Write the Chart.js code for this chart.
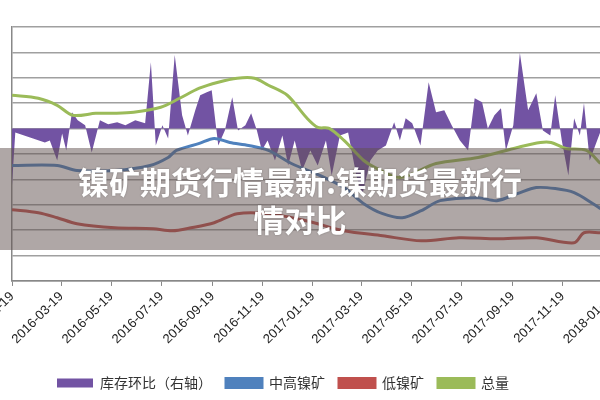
<!DOCTYPE html>
<html><head><meta charset="utf-8">
<script src="https://cdn.jsdelivr.net/npm/chart.js@4"></script>
<style>
html,body{margin:0;padding:0;width:600px;height:400px;overflow:hidden;background:#fff;}
#wrap{position:absolute;left:0;top:0;width:640px;height:400px;}
#banner{position:absolute;left:0;top:148px;width:600px;height:102px;background:rgba(95,80,78,0.5);
color:#fff;font-family:"Noto Sans CJK SC";font-weight:bold;font-size:31px;line-height:38px;text-align:center;padding-top:14px;box-sizing:border-box;text-shadow:0 0 2px rgba(0,0,0,0.3);}
</style></head><body>
<div id="wrap"><canvas id="c"></canvas></div>
<div id="banner">镍矿期货行情最新:镍期货最新行<br>情对比</div>
<script>
const tickDays=[0,60,121,182,244,305,366,425,486,547,609,670,731];
const tickLabels=["2016-01-19","2016-03-19","2016-05-19","2016-07-19","2016-09-19","2016-11-19","2017-01-19","2017-03-19","2017-05-19","2017-07-19","2017-09-19","2017-11-19","2018-01-19"];
const invDays=[0,4,22,40,46,55,61,66,73,80,89,97,107,117,128,138,150,162,169,175,183,190,198,207,214,223,229,237,243,251,259,268,275,284,291,298,304,311,320,329,336,344,353,363,372,382,389,399,409,419,426,436,445,455,465,472,479,487,497,507,516,526,535,545,555,563,572,579,587,595,601,610,618,628,638,646,655,661,669,677,684,691,696,703,712,719];
const invVals=[-57,-4,-9,-14,-12,-32,-5,-22,16,8,3,-24,8,4,6,3,8,5,66,-17,3,-10,73,13,-7,18,33,36,38,-17,-2,31,-2,3,15,-2,-22,-12,-32,-7,-37,-12,-42,-22,-37,-12,-47,-7,-4,-47,-67,-32,-22,-17,6,-12,10,5,-17,46,16,18,3,-12,-22,30,26,0,13,20,-22,3,75,18,35,-2,-7,33,-12,-47,10,-7,25,-32,-12,3];
const hiDays=[0,55,79,125,168,190,200,228,246,265,288,312,340,375,404,428,451,475,498,521,567,590,615,638,661,684,707,716];
const hiVals=[115,115,110,110,115,123,130,137,142,138,135,130,117,105,93,77,67,63,70,80,83,80,87,93,92,88,77,72];
const loDays=[0,32,55,79,125,172,195,218,246,274,312,358,404,451,498,544,590,638,684,696,716];
const loVals=[71,68,63,57,53,52,50,53,58,67,67,60,50,45,40,43,42,43,38,48,48];
const totDays=[0,32,55,74,102,125,148,181,204,228,251,274,295,312,335,358,372,386,404,428,442,472,516,567,615,643,656,674,699,716];
const totVals=[185,182,175,165,167,167,168,173,182,192,198,202,202,195,185,163,153,152,140,120,113,103,117,123,133,138,138,132,130,117];
const pts=(d,v)=>d.map((x,i)=>({x:x,y:v[i]}));
const shiftLegend={id:'shiftLegend',afterLayout(c){if(c.legend){c.legend.left-=38;c.legend.right-=38;}}};
new Chart(document.getElementById('c'),{
type:'line',
plugins:[shiftLegend],
data:{datasets:[
{label:'库存环比（右轴）',data:pts(invDays,invVals),yAxisID:'y2',fill:'origin',backgroundColor:'#7253a3',borderColor:'#7253a3',borderWidth:0,pointRadius:0,tension:0,order:4},
{label:'中高镍矿',data:pts(hiDays,hiVals),yAxisID:'y',borderColor:'#4f81bd',backgroundColor:'#4f81bd',borderWidth:3,pointRadius:0,tension:0.3,order:2},
{label:'低镍矿',data:pts(loDays,loVals),yAxisID:'y',borderColor:'#c0504d',backgroundColor:'#c0504d',borderWidth:3,pointRadius:0,tension:0.3,order:3},
{label:'总量',data:pts(totDays,totVals),yAxisID:'y',borderColor:'#9bbb59',backgroundColor:'#9bbb59',borderWidth:3,pointRadius:0,tension:0.3,order:1}
]},
options:{responsive:true,maintainAspectRatio:false,animation:false,
layout:{padding:{left:12,top:27,right:10,bottom:0}},
scales:{
x:{type:'linear',min:0,max:752,
afterBuildTicks:s=>{s.ticks=tickDays.map(v=>({value:v}));},
afterFit:s=>{s.paddingLeft=0;s.paddingRight=0;s.height+=12;},
ticks:{autoSkip:false,maxRotation:45,minRotation:45,color:'#222',font:{family:'Liberation Sans',size:13},callback:v=>tickLabels[tickDays.indexOf(v)]},
grid:{drawOnChartArea:false,drawTicks:true,tickLength:5,color:'#888'},border:{color:'#888',width:1.5}},
y:{min:0,max:253,ticks:{display:false,stepSize:25.3},grid:{color:'#a0a0a0',lineWidth:1.5,drawTicks:false},border:{color:'#888',width:1.5}},
y2:{position:'right',display:false,min:-152,max:101}
},
plugins:{legend:{position:'bottom',labels:{sort:(a,b)=>a.datasetIndex-b.datasetIndex,boxWidth:36,boxHeight:9,padding:14,color:'#333',font:{family:'Noto Sans CJK SC',size:14}}},tooltip:{enabled:false}}
}});
</script></body></html>
